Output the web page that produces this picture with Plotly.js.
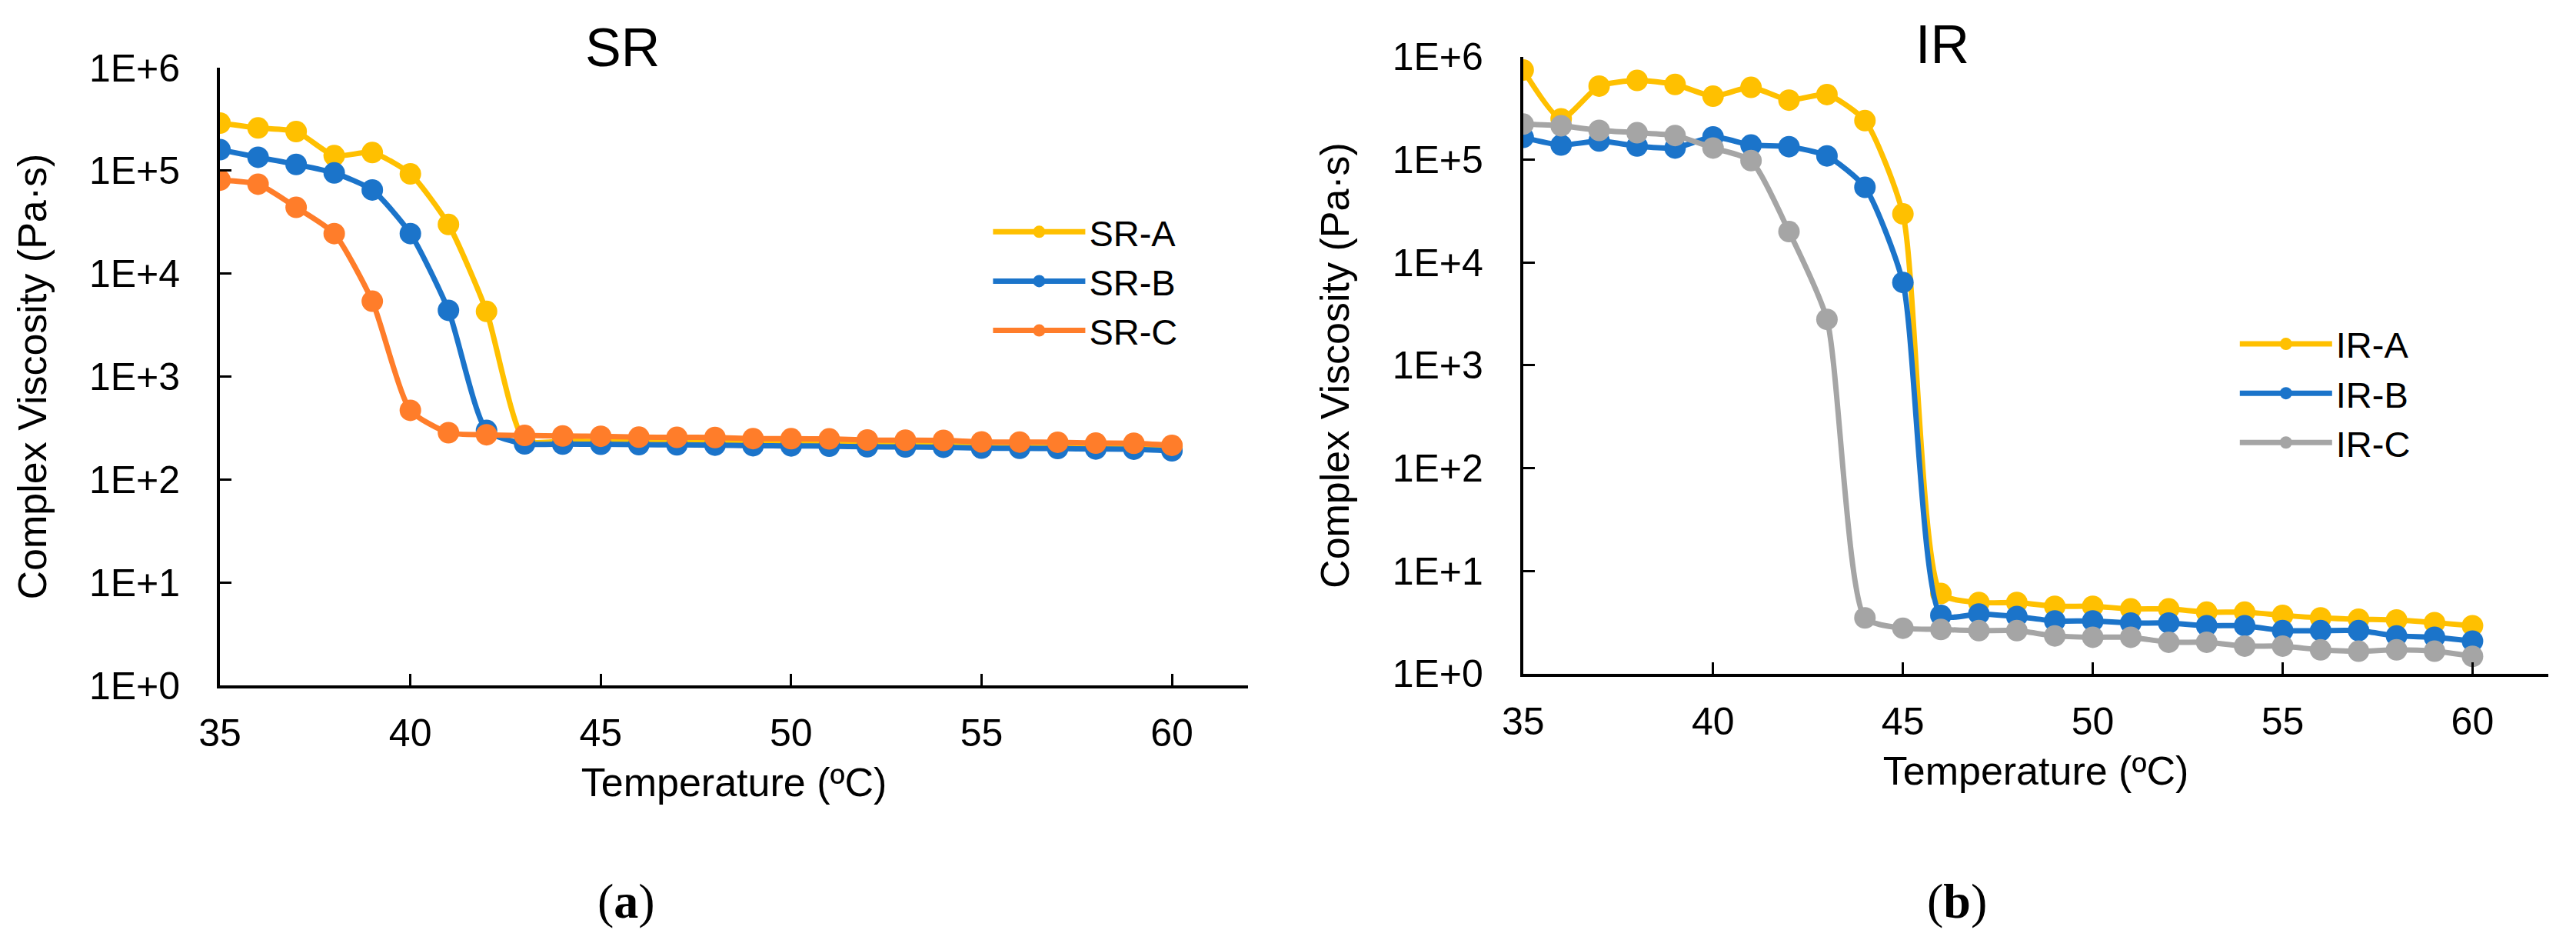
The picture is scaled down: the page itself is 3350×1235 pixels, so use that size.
<!DOCTYPE html>
<html>
<head>
<meta charset="utf-8">
<script src="https://cdn.plot.ly/plotly-3.0.1.min.js"></script>
<style>
  html, body { margin: 0; padding: 0; background: #fff; }
  #chart { width: 3350px; height: 1235px; }
</style>
</head>
<body>
<div id="chart"></div>
<script>
// temperatures (ºC), one point per degree
var temps = [35, 36, 37, 38, 39, 40, 41, 42, 43, 44, 45, 46, 47, 48, 49, 50,
             51, 52, 53, 54, 55, 56, 57, 58, 59, 60];

// complex viscosity (Pa·s)
var srA = [2.9e5, 2.6e5, 2.4e5, 1.4e5, 1.5e5, 9.3e4, 3.0e4, 4.3e3, 240, 236, 235, 233, 232,
           231, 228, 227, 226, 223, 222, 221, 218, 217, 216, 214, 213, 210];
var srB = [1.6e5, 1.35e5, 1.15e5, 9.5e4, 6.5e4, 2.45e4, 4.4e3, 300, 222, 221, 220, 218, 217,
           216, 213, 212, 211, 208, 207, 206, 202, 201, 200, 198, 197, 190];
var srC = [8.1e4, 7.4e4, 4.4e4, 2.45e4, 5.4e3, 470, 285, 272, 268, 265, 263, 258, 257,
           256, 250, 249, 248, 242, 241, 240, 232, 231, 230, 226, 225, 215];

var irA = [7.45e5, 2.5e5, 5.2e5, 5.9e5, 5.4e5, 4.15e5, 5.06e5, 3.8e5, 4.3e5, 2.4e5, 2.97e4,
           6.04, 4.94, 4.94, 4.54, 4.54, 4.28, 4.28, 3.98, 3.98, 3.71, 3.5, 3.4, 3.34, 3.15, 2.94];
var irB = [1.65e5, 1.39e5, 1.52e5, 1.36e5, 1.3e5, 1.67e5, 1.39e5, 1.34e5, 1.09e5, 5.4e4, 6.4e3,
           3.71, 3.82, 3.61, 3.27, 3.27, 3.12, 3.12, 2.94, 2.94, 2.63, 2.63, 2.63, 2.34, 2.27, 2.08];
var irC = [2.22e5, 2.14e5, 1.93e5, 1.83e5, 1.72e5, 1.3e5, 9.8e4, 2.0e4, 2.8e3, 3.5, 2.78,
           2.7, 2.63, 2.63, 2.34, 2.27, 2.27, 2.03, 2.03, 1.86, 1.86, 1.71, 1.66, 1.71, 1.66, 1.48];

var xTicks = [35, 40, 45, 50, 55, 60];
var yTicks = [1, 10, 100, 1000, 1e4, 1e5, 1e6];
var yTickText = ['1E+0', '1E+1', '1E+2', '1E+3', '1E+4', '1E+5', '1E+6'];

var YELLOW = '#FFC000', BLUE = '#1B74CA', ORANGE = '#FF7D2A', GRAY = '#A5A5A5';
var FONT = 'Liberation Sans, Arial, sans-serif';
var SERIF = 'Liberation Serif, Times New Roman, serif';

function series(name, y, color, xa, ya, leg) {
  return {
    x: temps, y: y, name: name, type: 'scatter', mode: 'lines+markers',
    xaxis: xa, yaxis: ya, legend: leg,
    line: { color: color, width: 7, shape: 'spline', smoothing: 0.6 },
    marker: { color: color, size: 28 }
  };
}

var data = [
  series('SR-A', srA, YELLOW, 'x', 'y', 'legend'),
  series('SR-B', srB, BLUE, 'x', 'y', 'legend'),
  series('SR-C', srC, ORANGE, 'x', 'y', 'legend'),
  series('IR-A', irA, YELLOW, 'x2', 'y2', 'legend2'),
  series('IR-B', irB, BLUE, 'x2', 'y2', 'legend2'),
  series('IR-C', irC, GRAY, 'x2', 'y2', 'legend2')
];

function xAxis(domain, anchor) {
  return {
    domain: domain, anchor: anchor, range: [35, 62],
    tickvals: xTicks, ticks: 'inside', ticklen: 15, tickwidth: 3, tickcolor: '#000',
    showline: true, linecolor: '#000', linewidth: 4,
    showgrid: false, zeroline: false,
    tickfont: { family: FONT, size: 50, color: '#000' }, ticklabelstandoff: 15,
    title: { text: 'Temperature (ºC)', font: { family: FONT, size: 52, color: '#000' }, standoff: 20 }
  };
}

function yAxis(domain, anchor) {
  return {
    domain: domain, anchor: anchor, type: 'log', range: [0, 6],
    tickvals: yTicks, ticktext: yTickText,
    ticks: 'inside', ticklen: 15, tickwidth: 3, tickcolor: '#000',
    showline: true, linecolor: '#000', linewidth: 4,
    showgrid: false, zeroline: false,
    tickfont: { family: FONT, size: 50, color: '#000' }, ticklabelstandoff: 38,
    title: { text: 'Complex Viscosity (Pa·s)', font: { family: FONT, size: 52, color: '#000' }, standoff: 40 }
  };
}

function label(text, x, y, family, size) {
  return {
    text: text, x: x, y: y, xref: 'paper', yref: 'paper',
    xanchor: 'center', yanchor: 'middle', showarrow: false,
    font: { family: family, size: size, color: '#000' }
  };
}

var layout = {
  width: 3350, height: 1235,
  margin: { l: 0, r: 0, t: 0, b: 0 },
  paper_bgcolor: '#fff', plot_bgcolor: '#fff',
  showlegend: true,
  xaxis: xAxis([0.0854, 0.4845], 'y'),
  yaxis: yAxis([0.2785, 0.9287], 'x'),
  xaxis2: xAxis([0.5913, 0.9893], 'y2'),
  yaxis2: yAxis([0.2907, 0.9401], 'x2'),
  legend: {
    x: 0.384, y: 0.786, xanchor: 'left', yanchor: 'top',
    bgcolor: 'rgba(0,0,0,0)', itemwidth: 120,
    font: { family: FONT, size: 47, color: '#000' }
  },
  legend2: {
    x: 0.868, y: 0.668, xanchor: 'left', yanchor: 'top',
    bgcolor: 'rgba(0,0,0,0)', itemwidth: 120,
    font: { family: FONT, size: 47, color: '#000' }
  },
  annotations: [
    label('SR', 0.2415, 0.9498, FONT, 70),
    label('IR', 0.7540, 0.9530, FONT, 70),
    label('(<b>a</b>)', 0.2430, 0.0518, SERIF, 64),
    label('(<b>b</b>)', 0.7597, 0.0518, SERIF, 64)
  ]
};

Plotly.newPlot('chart', data, layout, { staticPlot: true });
</script>
</body>
</html>
